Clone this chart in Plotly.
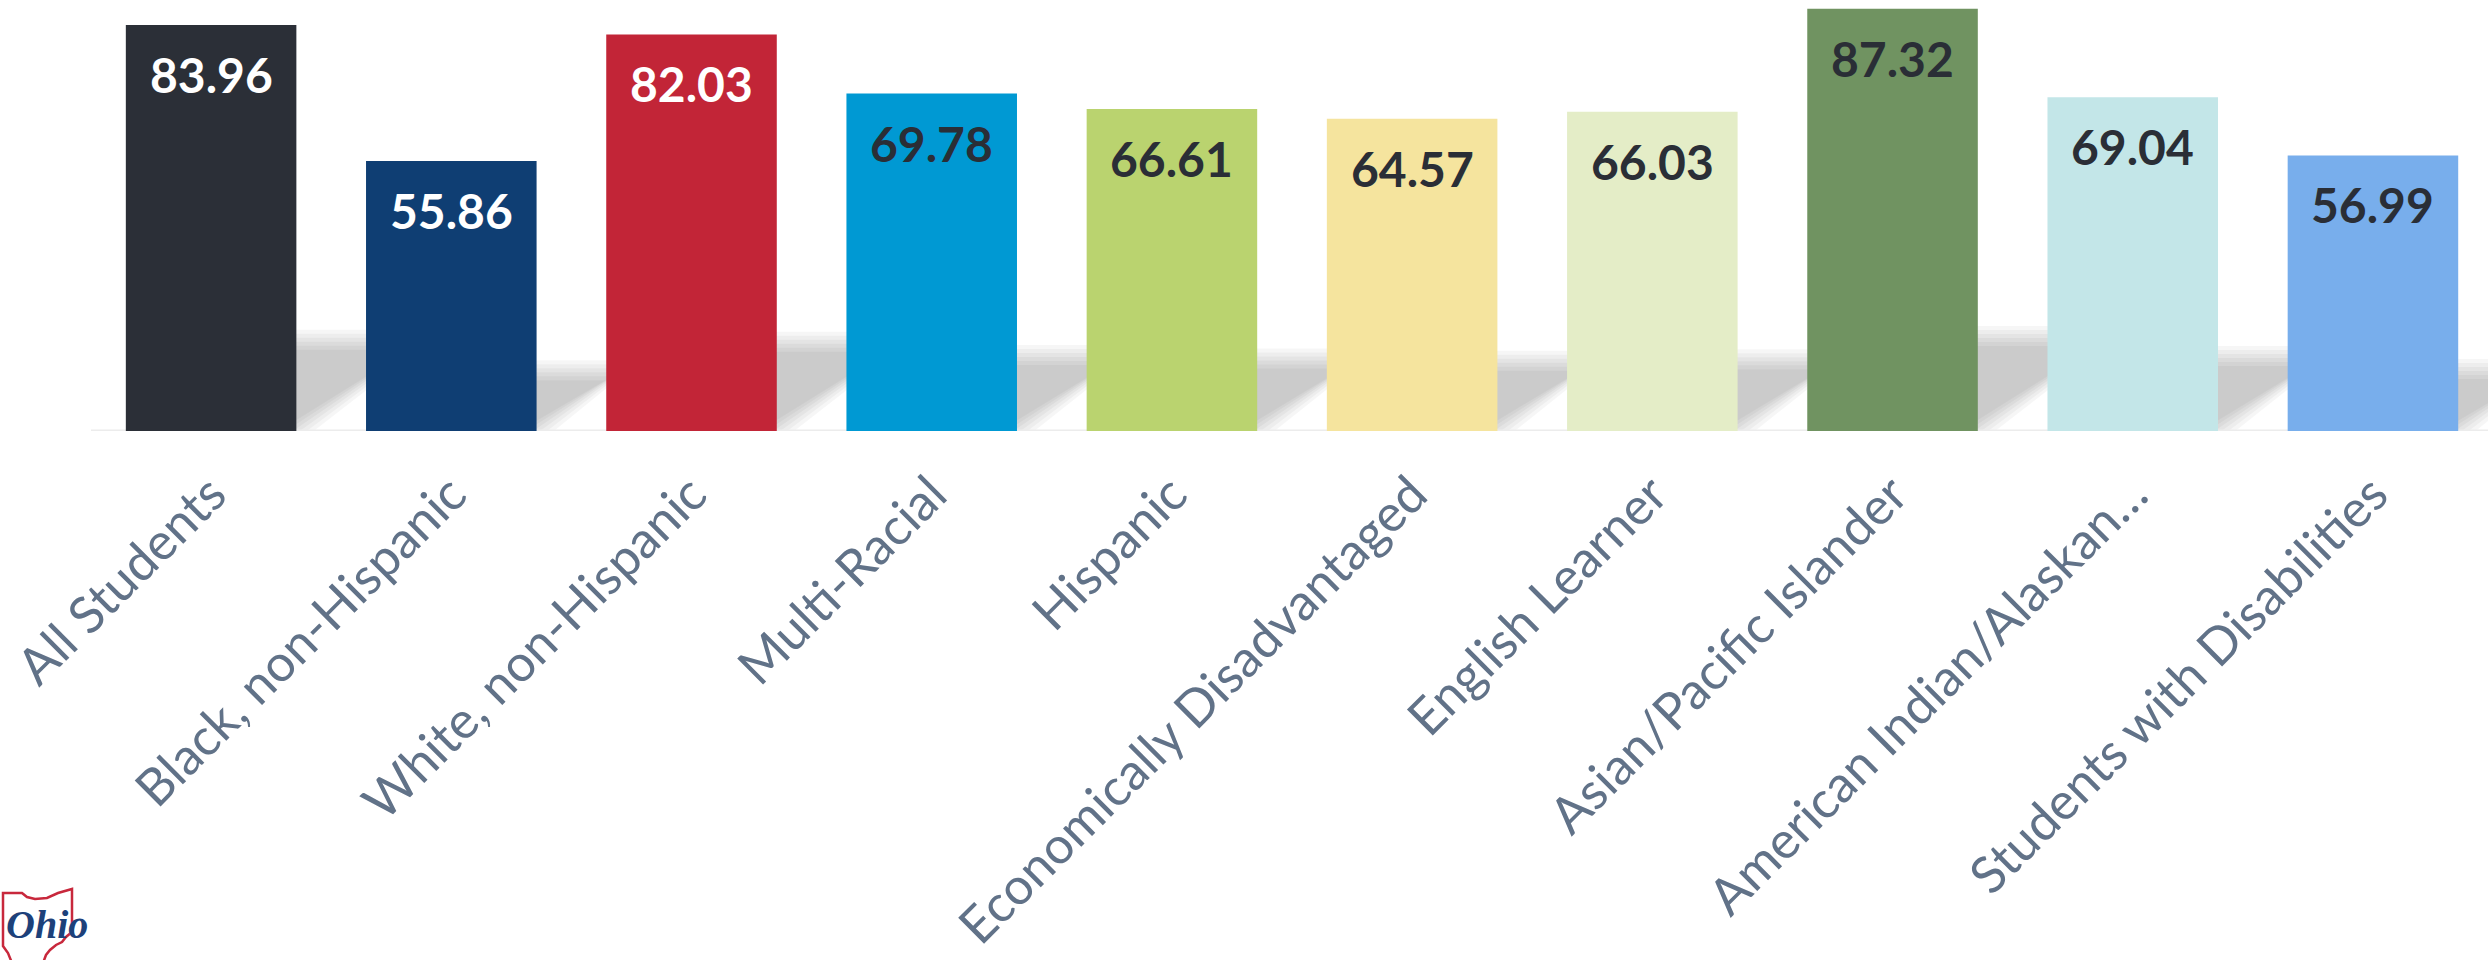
import plotly.graph_objects as go

# ---------------- data ----------------
categories = [
    "All Students",
    "Black, non-Hispanic",
    "White, non-Hispanic",
    "Multi-Racial",
    "Hispanic",
    "Economically Disadvantaged",
    "English Learner",
    "Asian/Pacific Islander",
    "American Indian/Alaskan…",
    "Students with Disabilities",
]
values = [83.96, 55.86, 82.03, 69.78, 66.61, 64.57, 66.03, 87.32, 69.04, 56.99]
bar_colors = ["#2b2f37", "#0f3e73", "#c22537", "#0099d3", "#bad36f",
              "#f5e49e", "#e4edc7", "#709361", "#c3e6e8", "#78aeec"]
label_colors = ["#ffffff", "#ffffff", "#ffffff", "#2a2e36", "#2a2e36",
                "#2a2e36", "#2a2e36", "#2a2e36", "#2a2e36", "#2a2e36"]

# ---------------- geometry / style ----------------
W, H = 2488, 960
ML, MB = 91, 529
PLOT_W = W - ML
PLOT_H = H - MB
Y_TOP = 89.14
X_HI = 9.479
BAR_W = 0.71
px_per_x = PLOT_W / (X_HI + 0.5)
px_per_y = PLOT_H / Y_TOP

xs = list(range(len(categories)))

fig = go.Figure()
fig.add_trace(go.Bar(
    x=xs, y=values, width=BAR_W,
    marker=dict(color=bar_colors, line=dict(width=0)),
    hoverinfo="skip", showlegend=False,
))

shapes = []
# soft perspective shadows behind each bar (layered for a blur effect)
SH_RATIO = 0.225
SLOPE = 0.70
for xi, v in zip(xs, values):
    s_px = SH_RATIO * v * px_per_y
    d_px = s_px / SLOPE
    xl = xi - BAR_W / 2
    xr = xi + BAR_W / 2
    for e in (10, 6, 2, -2, -6, -10):
        ey = (s_px + e) / px_per_y
        ex = (e / 0.573) / px_per_x
        d = d_px / px_per_x
        path = (f"M {xl},0 L {xr + ex},0 L {xr + ex + d},{ey} "
                f"L {xl + d},{ey} Z")
        shapes.append(dict(type="path", xref="x", yref="y", path=path,
                           fillcolor="rgba(0,0,0,0.037)", line=dict(width=0),
                           layer="below"))
# faint floor line
shapes.append(dict(type="line", xref="x", yref="y", x0=-0.5, x1=X_HI, y0=0, y1=0,
                   line=dict(color="#ececec", width=3), layer="below"))

# Ohio logo outline (pixel-sized shape anchored at figure bottom-left)
px_x0 = -ML / PLOT_W
px_y0 = -(MB) / PLOT_H
ohio_pts = [(12, 963), (8, 953), (3, 946), (3, 893), (22, 893), (27, 897), (35, 899),
            (47, 898), (58, 893), (72, 889), (72, 932), (66, 937), (62, 942),
            (56, 945), (50, 950), (46, 955), (43, 963)]
ohio_path = "M " + " L ".join(f"{x},{H - y}" for x, y in ohio_pts)
shapes.append(dict(type="path", xref="paper", yref="paper",
                   xsizemode="pixel", ysizemode="pixel",
                   xanchor=px_x0, yanchor=px_y0, path=ohio_path,
                   line=dict(color="#c8283c", width=2.5), fillcolor="rgba(0,0,0,0)"))

annotations = []
for xi, v, c in zip(xs, values, label_colors):
    annotations.append(dict(
        x=xi, y=v, xref="x", yref="y", text=f"{v:.2f}", showarrow=False,
        yanchor="top", xanchor="center", yshift=-19,
        font=dict(family="Lato", size=48, color=c, weight=700),
    ))
annotations.append(dict(
    xref="paper", yref="paper", x=(4 - ML) / PLOT_W, y=(PLOT_H - 924) / PLOT_H,
    text="Ohio", showarrow=False, xanchor="left", yanchor="middle",
    font=dict(family="Liberation Serif", size=40, color="#1d417a", style="italic", weight=700),
))

fig.update_layout(
    width=W, height=H,
    margin=dict(l=ML, r=0, t=0, b=MB, pad=0, autoexpand=False),
    paper_bgcolor="white", plot_bgcolor="white",
    bargap=0.29,
    shapes=shapes, annotations=annotations,
    xaxis=dict(
        range=[-0.5, X_HI], tickmode="array", tickvals=xs, ticktext=categories,
        tickangle=-45, tickfont=dict(family="Lato", size=51, color="#617288"),
        ticks="outside", ticklen=12, tickcolor="rgba(0,0,0,0)",
        ticklabeloverflow="allow", automargin=False,
        showgrid=False, zeroline=False, showline=False, fixedrange=True,
    ),
    yaxis=dict(range=[0, Y_TOP], visible=False, showgrid=False, zeroline=False,
               fixedrange=True, automargin=False),
    showlegend=False,
)

fig.write_html("out.html")
